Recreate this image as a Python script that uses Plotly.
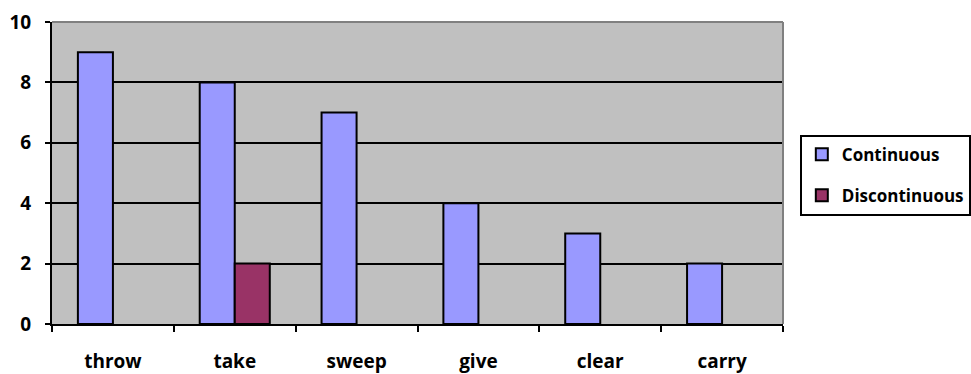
import plotly.graph_objects as go

# Verb categories and counts per series
verbs = ["throw", "take", "sweep", "give", "clear", "carry"]
continuous = [9, 8, 7, 4, 3, 2]
discontinuous = [None, 2, None, None, None, None]
y_ticks = [0, 2, 4, 6, 8, 10]

FONT = "'Open Sans', Lato, sans-serif"
TICK_FONT = dict(family=FONT, size=19, color="black", weight=700)

fig = go.Figure()
fig.add_trace(go.Bar(
    x=verbs, y=continuous, name="Continuous",
    marker=dict(color="#9999FF", line=dict(color="black", width=2)),
    legendgroup="c",
))
fig.add_trace(go.Bar(
    x=verbs, y=discontinuous, name="Discontinuous",
    marker=dict(color="#993366", line=dict(color="black", width=2)),
    legendgroup="d",
))

fig.update_layout(
    width=971, height=374,
    margin=dict(l=52, r=188, t=22, b=50, autoexpand=False),
    paper_bgcolor="white",
    plot_bgcolor="#C0C0C0",
    barmode="group",
    bargap=0.425,
    bargroupgap=0,
    font=TICK_FONT,
    showlegend=True,
    legend=dict(
        x=1.023, y=0.627, xanchor="left", yanchor="top",
        bgcolor="white", bordercolor="black", borderwidth=2,
        font=dict(family=FONT, size=17, color="black", weight=700),
        traceorder="grouped", tracegroupgap=16,
        itemwidth=30,
    ),
    xaxis=dict(
        showgrid=False, automargin=False,
        showline=True, linecolor="black", linewidth=2,
        ticks="outside", tickson="boundaries", ticklen=6,
        tickcolor="black", tickwidth=2,
        ticklabelstandoff=19,
        tickfont=TICK_FONT,
    ),
    yaxis=dict(
        range=[0, 10], tickvals=y_ticks, automargin=False,
        showgrid=True, gridcolor="black", gridwidth=1.5,
        showline=True, linecolor="black", linewidth=2,
        ticks="outside", ticklen=5, tickcolor="black", tickwidth=2,
        ticklabelstandoff=10,
        zeroline=False,
        tickfont=TICK_FONT,
    ),
    shapes=[
        # grey frame on the top and right edges of the plot area
        dict(type="line", xref="paper", yref="paper", x0=0, x1=1, y0=1, y1=1,
             line=dict(color="#808080", width=2), layer="above"),
        dict(type="line", xref="paper", yref="paper", x0=1, x1=1, y0=0, y1=1,
             line=dict(color="#808080", width=2), layer="above"),
    ],
)

fig.write_html("out.html")
